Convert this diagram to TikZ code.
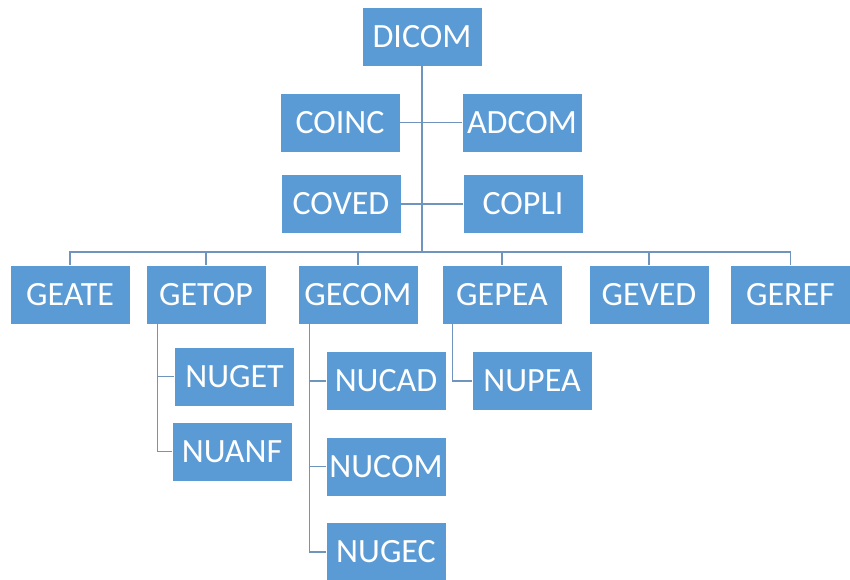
\documentclass[tikz,border=0pt]{standalone}
\usepackage{fontspec}
\setmainfont{Carlito}
\usepackage{xcolor}
\usetikzlibrary{calc}
\definecolor{boxblue}{HTML}{5B9BD5}
\definecolor{linkblue}{HTML}{6F94BE}

\begin{document}
\begin{tikzpicture}[x=0.75pt, y=-0.75pt,
    unit/.style={rectangle, draw=white, line width=0.4pt, fill=boxblue, text=white,
      inner sep=0pt, minimum width=90pt, minimum height=44.25pt,
      font=\fontsize{25.5}{30}\selectfont},
    link/.style={draw=linkblue, line width=0.9pt}]
      \useasboundingbox (0, 0) rectangle (850, 580);

      \node[unit] (dicom) at (422, 36.5) {DICOM};
      \node[unit] (coinc) at (340, 122.5) {COINC};
      \node[unit] (adcom) at (522, 122.5) {ADCOM};
      \node[unit] (coved) at (341, 204) {COVED};
      \node[unit] (copli) at (523, 204) {COPLI};

      \node[unit] (geate) at (70, 294.5) {GEATE};
      \node[unit] (getop) at (206, 294.5) {GETOP};
      \node[unit] (gecom) at (358, 294.5) {GECOM};
      \node[unit] (gepea) at (502, 294.5) {GEPEA};
      \node[unit] (geved) at (649, 294.5) {GEVED};
      \node[unit] (geref) at (790.5, 294.5) {GEREF};

      \node[unit] (nuget) at (234.5, 376.5) {NUGET};
      \node[unit] (nuanf) at (232, 451.5) {NUANF};
      \node[unit] (nucad) at (386, 381) {NUCAD};
      \node[unit] (nucom) at (386, 466.5) {NUCOM};
      \node[unit] (nugec) at (386, 552) {NUGEC};
      \node[unit] (nupea) at (532, 381) {NUPEA};

      \coordinate (bus) at (422, 252);

      \draw[link] (dicom.south) -- (bus);
      \draw[link] (coinc.east) -- (adcom.west);
      \draw[link] (coved.east) -- (copli.west);
      \draw[link] (geate.north) |- (bus) -| (geref.north);
      \foreach \g in {getop, gecom, gepea, geved}
        \draw[link] (\g.north) -- (\g.north |- bus);

      % sub units
      \draw[link] ([xshift=9pt]getop.south west) |- (nuget.west);
      \draw[link] ([xshift=9pt]getop.south west) |- (nuanf.west);
      \foreach \n in {nucad, nucom, nugec}
        \draw[link] ([xshift=9pt]gecom.south west) |- (\n.west);
      \draw[link] ([xshift=8.25pt]gepea.south west) |- (nupea.west);
    \end{tikzpicture}
\end{document}
